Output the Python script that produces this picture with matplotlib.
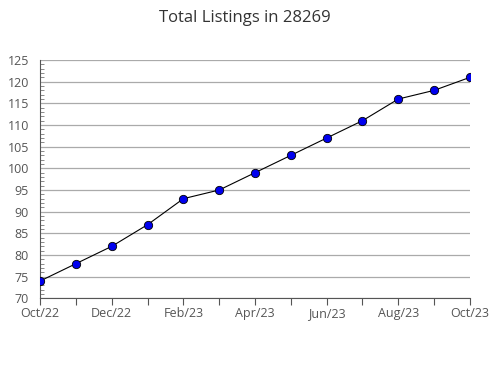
import matplotlib
matplotlib.use("Agg")
import matplotlib.pyplot as plt
from matplotlib.ticker import MultipleLocator

plt.rcParams["font.family"] = ["Open Sans", "DejaVu Sans"]

months = ["Oct/22", "Nov/22", "Dec/22", "Jan/23", "Feb/23", "Mar/23", "Apr/23",
          "May/23", "Jun/23", "Jul/23", "Aug/23", "Sep/23", "Oct/23"]
listings = [74, 78, 82, 87, 93, 95, 99, 103, 107, 111, 116, 118, 121]

fig = plt.figure(figsize=(4.9, 3.8), dpi=100)
ax = fig.add_axes([0.082, 0.215, 0.877, 0.627])

x = list(range(len(months)))
ax.plot(x, listings, color="black", linewidth=0.8, marker="o", markersize=6,
        markerfacecolor="#0000ee", markeredgecolor="black", markeredgewidth=0.6,
        zorder=3)

ax.set_xlim(0, len(months) - 1)
ax.set_ylim(70, 125)
ax.yaxis.set_major_locator(MultipleLocator(5))
ax.yaxis.set_minor_locator(MultipleLocator(1))
ax.set_xticks(x)
ax.set_xticklabels([m if i % 2 == 0 else "" for i, m in enumerate(months)])

ax.grid(axis="y", color="#aaaaaa", linewidth=0.9)
ax.set_axisbelow(True)
for s in ["top", "right"]:
    ax.spines[s].set_visible(False)
ax.spines["left"].set_color("#555555")
ax.spines["bottom"].set_color("#555555")
ax.tick_params(axis="y", which="major", length=0, labelsize=9, labelcolor="#555555", pad=8)
ax.tick_params(axis="y", which="minor", length=3, direction="in", color="#777777")
ax.tick_params(axis="x", length=5, color="#555555", labelsize=9, labelcolor="#555555", pad=1)

fig.suptitle("Total Listings in 28269", y=0.975, fontsize=12, color="#333333")

fig.savefig("out.png", dpi=100)
